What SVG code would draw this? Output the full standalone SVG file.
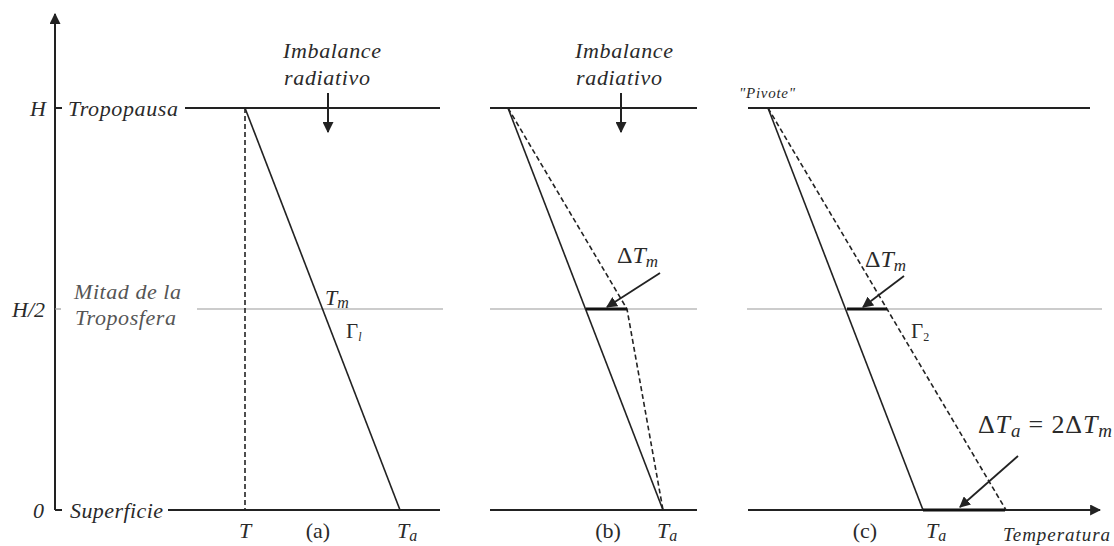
<svg xmlns="http://www.w3.org/2000/svg" width="1114" height="546" viewBox="0 0 1114 546">
<defs>
<style>
.t{font-family:"Liberation Serif","Times New Roman","DejaVu Serif",serif;fill:#2a2a2a}
.it{font-style:italic}
.lbl{font-size:22px}
.ax{stroke:#222;stroke-width:2;fill:none}
.lev{stroke:#222;stroke-width:2;fill:none}
.mid{stroke:#9a9a9a;stroke-width:1.2;fill:none}
.sol{stroke:#222;stroke-width:1.6;fill:none}
.dash{stroke:#222;stroke-width:1.6;fill:none;stroke-dasharray:5 3}
.thick{stroke:#111;stroke-width:3;fill:none}
.arr{stroke:#222;stroke-width:1.8;fill:none}
</style>
<marker id="ahBig" viewBox="0 0 10 10" refX="9" refY="5" markerWidth="11" markerHeight="11" markerUnits="userSpaceOnUse" orient="auto">
<path d="M0,0 L10,5 L0,10 z" fill="#222"/>
</marker>
</defs>
<rect width="1114" height="546" fill="#ffffff"/>

<g id="axis">
<line x1="55" y1="510" x2="55" y2="14" class="ax" marker-end="url(#ahBig)"/>
<line x1="55" y1="108" x2="62" y2="108" class="ax"/>
<line x1="55" y1="309" x2="61" y2="309" class="mid"/>
<line x1="55" y1="510" x2="62" y2="510" class="ax"/>
<text x="30" y="116" class="t it lbl">H</text>
<text x="12" y="317" class="t it lbl">H/2</text>
<text x="33" y="518" class="t it lbl">0</text>
<text x="68" y="116" class="t it lbl" textLength="110">Tropopausa</text>
<text x="74" y="299" class="t it lbl" textLength="107" style="fill:#555">Mitad de la</text>
<text x="75" y="325" class="t it lbl" textLength="101" style="fill:#555">Troposfera</text>
<text x="70" y="518" class="t it lbl" textLength="93">Superficie</text>
</g>

<g id="panel-a">
<line x1="185" y1="108" x2="440" y2="108" class="lev"/>
<line x1="197" y1="309" x2="443" y2="309" class="mid"/>
<line x1="168" y1="510" x2="440" y2="510" class="lev"/>
<line x1="245" y1="108" x2="245" y2="510" class="dash"/>
<line x1="245" y1="108" x2="400" y2="510" class="sol"/>
<text x="283" y="58" class="t it lbl" textLength="98">Imbalance</text>
<text x="284" y="85" class="t it lbl" textLength="86">radiativo</text>
<line x1="328" y1="93" x2="328" y2="132" class="ax" marker-end="url(#ahBig)"/>
<text x="325" y="305" class="t it" font-size="22">T<tspan font-size="16" dy="3">m</tspan></text>
<text x="346" y="338" class="t" font-size="21">Γ<tspan class="it" font-size="12" dy="3">l</tspan></text>
<text x="245" y="538" class="t it lbl" text-anchor="middle">T</text>
<text x="318" y="538" class="t lbl" text-anchor="middle">(a)</text>
<text x="397" y="538" class="t it lbl">T<tspan font-size="16" dy="3">a</tspan></text>
</g>

<g id="panel-b">
<line x1="490" y1="108" x2="697" y2="108" class="lev"/>
<line x1="490" y1="309" x2="697" y2="309" class="mid"/>
<line x1="490" y1="510" x2="697" y2="510" class="lev"/>
<line x1="508" y1="108" x2="663" y2="510" class="sol"/>
<polyline points="508,108 627,309 663,510" class="dash"/>
<line x1="586" y1="309" x2="627" y2="309" class="thick"/>
<text x="575" y="58" class="t it lbl" textLength="98">Imbalance</text>
<text x="576" y="85" class="t it lbl" textLength="86">radiativo</text>
<line x1="621" y1="93" x2="621" y2="132" class="ax" marker-end="url(#ahBig)"/>
<text x="617" y="263" class="t" font-size="24">Δ<tspan class="it">T</tspan><tspan class="it" font-size="17" dy="4">m</tspan></text>
<line x1="660" y1="273" x2="607" y2="307" class="arr" marker-end="url(#ahBig)"/>
<text x="608" y="538" class="t lbl" text-anchor="middle">(b)</text>
<text x="657" y="538" class="t it lbl">T<tspan font-size="16" dy="3">a</tspan></text>
</g>

<g id="panel-c">
<line x1="748" y1="108" x2="1090" y2="108" class="lev"/>
<line x1="747" y1="309" x2="1102" y2="309" class="mid"/>
<line x1="748" y1="510" x2="1100" y2="510" class="lev" marker-end="url(#ahBig)"/>
<line x1="768" y1="108" x2="923" y2="510" class="sol"/>
<line x1="768" y1="108" x2="1006" y2="510" class="dash"/>
<line x1="847" y1="309" x2="887" y2="309" class="thick"/>
<line x1="923" y1="510" x2="1005" y2="510" class="thick"/>
<text x="739" y="98" class="t it" font-size="15" textLength="56">"Pivote"</text>
<text x="865" y="267" class="t" font-size="24">Δ<tspan class="it">T</tspan><tspan class="it" font-size="17" dy="4">m</tspan></text>
<line x1="904" y1="276" x2="863" y2="307" class="arr" marker-end="url(#ahBig)"/>
<text x="911" y="338" class="t" font-size="21">Γ<tspan font-size="12" dy="3">2</tspan></text>
<text x="978" y="433" class="t" font-size="26" textLength="134">Δ<tspan class="it">T</tspan><tspan class="it" font-size="19" dy="4">a</tspan><tspan dy="-4"> = 2Δ</tspan><tspan class="it">T</tspan><tspan class="it" font-size="19" dy="4">m</tspan></text>
<line x1="1018" y1="456" x2="960" y2="507" class="arr" marker-end="url(#ahBig)"/>
<text x="865" y="538" class="t lbl" text-anchor="middle">(c)</text>
<text x="926" y="538" class="t it lbl">T<tspan font-size="16" dy="3">a</tspan></text>
<text x="1003" y="541" class="t it" font-size="19" textLength="107">Temperatura</text>
</g>
</svg>
